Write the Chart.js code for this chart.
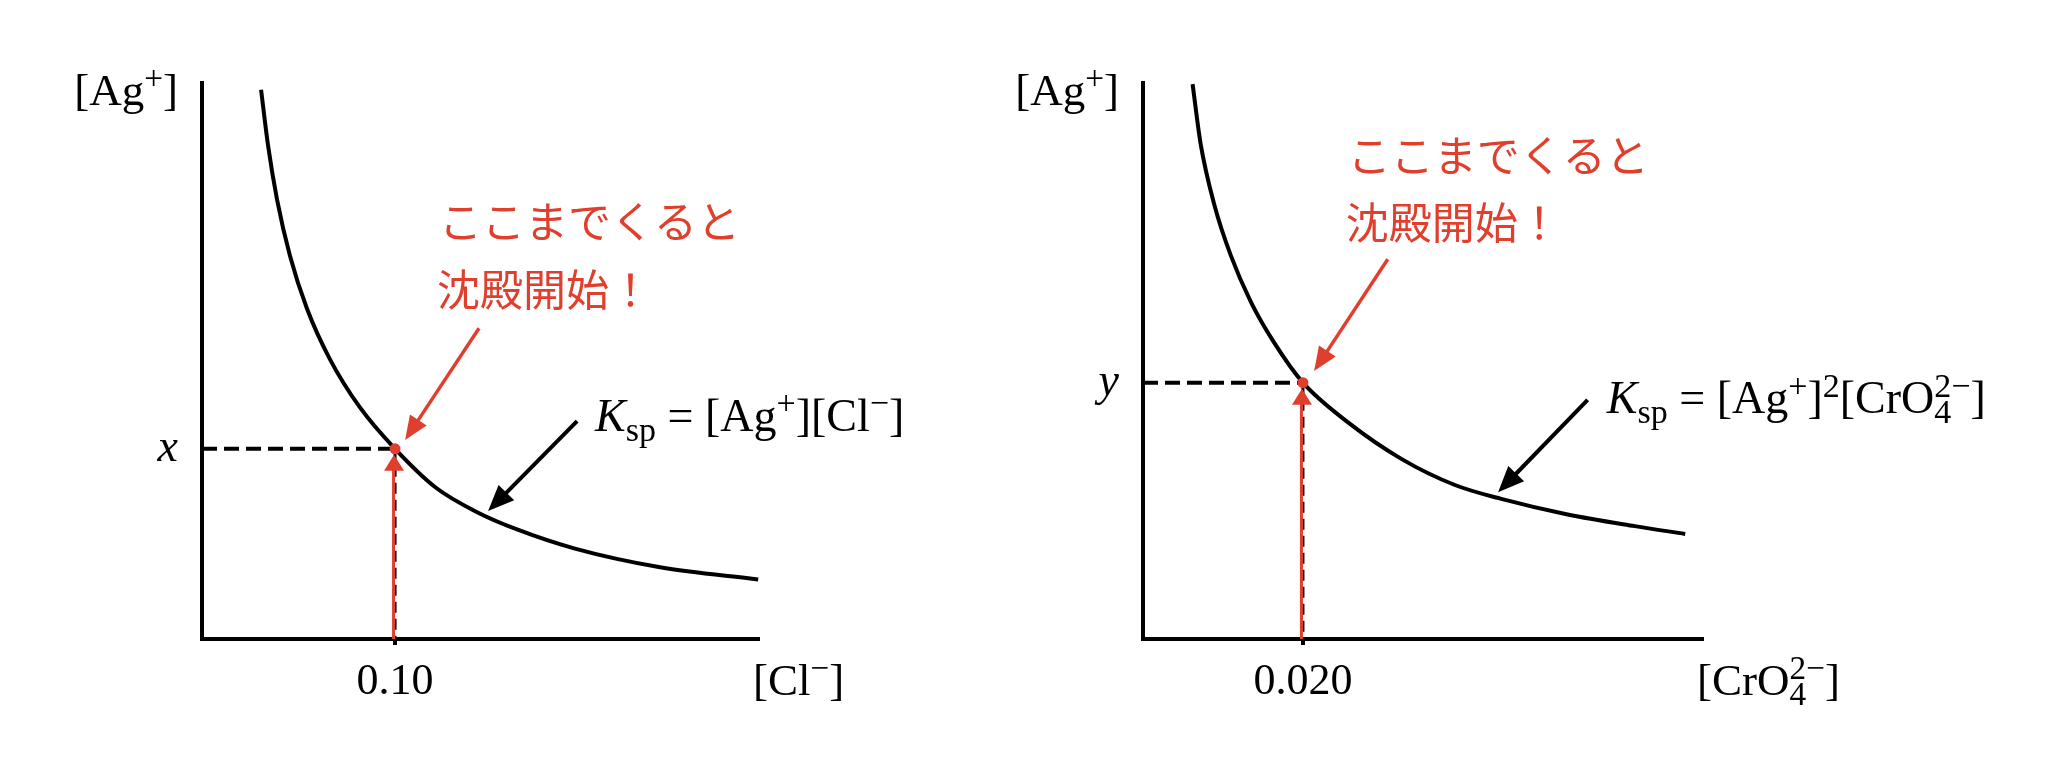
<!DOCTYPE html>
<html>
<head>
<meta charset="utf-8">
<script src="https://cdn.jsdelivr.net/npm/chart.js@4.4.1/dist/chart.umd.min.js"></script>
<style>
  html, body { margin: 0; padding: 0; background: #fff; }
  #wrap { position: relative; width: 2048px; height: 779px; }
  .panel { position: absolute; top: 0; height: 779px; }
</style>
</head>
<body>
<div id="wrap">
  <div class="panel" style="left:0;width:1024px"><canvas id="chartCl" width="1024" height="779"></canvas></div>
  <div class="panel" style="left:960px;width:1088px"><canvas id="chartCr" width="1088" height="779"></canvas></div>
</div>
<script>
// 左: AgCl の溶解度曲線 ([Ag+] は相対値, 軸の上端 = 1)
const clX  = [0.0306, 0.0342, 0.0389, 0.0456, 0.0544, 0.0663, 0.0819, 0.100, 0.1212, 0.1420, 0.1632, 0.1927, 0.2373, 0.2881];
const clAg = [0.988, 0.888, 0.790, 0.689, 0.594, 0.503, 0.416, 0.342, 0.272, 0.229, 0.197, 0.163, 0.129, 0.107];
const clTick = 0.100;
const clTickLabel = '0.10';
const clAgLabel = 'x';
const clXMax = 0.288;

// 右: Ag2CrO4 の溶解度曲線
const crX  = [0.0062, 0.0072, 0.0089, 0.0110, 0.0135, 0.0164, 0.020, 0.0256, 0.0323, 0.0390, 0.0448, 0.0531, 0.0615, 0.0678];
const crAg = [0.998, 0.891, 0.782, 0.689, 0.606, 0.533, 0.461, 0.390, 0.324, 0.277, 0.252, 0.224, 0.203, 0.189];
const crTick = 0.020;
const crTickLabel = '0.020';
const crAgLabel = 'y';
const crXMax = 0.0699;

const RED = '#df3f2c';
const SERIF = '"Liberation Serif", "Times New Roman", serif';
const JP = '"Noto Sans CJK JP", sans-serif';

// 注釈の位置 (データ座標)
const clNotes = {
    red: [0.1435, 0.559, 0.1052, 0.358],
    black: [0.1943, 0.392, 0.1482, 0.230],
    jp: [0.1228, 0.750, 0.629],
    ksp: [0.2036, 0.374],
    formula: [{ t: 'K', i: true }, { sub: 'sp' }, { t: ' = [Ag' }, { sup: '+' }, { t: '][Cl' }, { sup: '\u2212' }, { t: ']' }],
    xTitle: [{ t: '[Cl' }, { sup: '\u2212' }, { t: ']' }]
};
const crNotes = {
    red: [0.0306, 0.683, 0.0214, 0.482],
    black: [0.0556, 0.430, 0.0444, 0.264],
    jp: [0.0256, 0.869, 0.748],
    ksp: [0.058, 0.406],
    formula: [{ t: 'K', i: true }, { sub: 'sp' }, { t: ' = [Ag' }, { sup: '+' }, { t: ']' }, { sup: '2' }, { t: '[CrO' }, { sub: '4', sup: '2\u2212' }, { t: ']' }],
    xTitle: [{ t: '[CrO' }, { sub: '4', sup: '2\u2212' }, { t: ']' }]
};
const agTitle = [{ t: '[Ag' }, { sup: '+' }, { t: ']' }];

// 上付き・下付きを含む文字列
function drawRich(ctx, parts, x, y, size, align) {
    const small = size * 0.74;
    const widths = parts.map(p => {
        if (p.t !== undefined) {
            ctx.font = `${p.i ? 'italic ' : ''}${size}px ${SERIF}`;
            return ctx.measureText(p.t).width;
        }
        ctx.font = `${small}px ${SERIF}`;
        return Math.max(p.sup ? ctx.measureText(p.sup).width : 0, p.sub ? ctx.measureText(p.sub).width : 0);
    });
    const total = widths.reduce((a, b) => a + b, 0);
    let cx = align === 'right' ? x - total : x;
    ctx.textAlign = 'left';
    ctx.textBaseline = 'alphabetic';
    parts.forEach((p, k) => {
        if (p.t !== undefined) {
            ctx.font = `${p.i ? 'italic ' : ''}${size}px ${SERIF}`;
            ctx.fillText(p.t, cx, y);
        } else {
            ctx.font = `${small}px ${SERIF}`;
            if (p.sup) ctx.fillText(p.sup, cx, y - size * 0.36);
            if (p.sub) ctx.fillText(p.sub, cx, y + size * 0.22);
        }
        cx += widths[k];
    });
}

function arrow(ctx, x1, y1, x2, y2, color, lw, hl, hw) {
    const a = Math.atan2(y2 - y1, x2 - x1);
    const bx = x2 - hl * Math.cos(a), by = y2 - hl * Math.sin(a);
    ctx.save();
    ctx.strokeStyle = color;
    ctx.fillStyle = color;
    ctx.lineWidth = lw;
    ctx.setLineDash([]);
    ctx.beginPath();
    ctx.moveTo(x1, y1);
    ctx.lineTo(bx + 2 * Math.cos(a), by + 2 * Math.sin(a));
    ctx.stroke();
    ctx.beginPath();
    ctx.moveTo(x2, y2);
    ctx.lineTo(bx - hw / 2 * Math.sin(a), by + hw / 2 * Math.cos(a));
    ctx.lineTo(bx + hw / 2 * Math.sin(a), by - hw / 2 * Math.cos(a));
    ctx.closePath();
    ctx.fill();
    ctx.restore();
}

function makePanel(id, xs, ys, tickX, tickLabel, yLabel, xMax, padLeft, padRight, notes) {
    const yPt = ys[xs.indexOf(tickX)];

    const notesPlugin = {
        id: 'notes',
        afterDatasetsDraw(chart) {
            const { ctx, chartArea, scales: { x, y } } = chart;
            const px = x.getPixelForValue(tickX);
            const py = y.getPixelForValue(yPt);
            const bottom = y.getPixelForValue(0);

            // 赤い縦矢印と交点
            ctx.save();
            ctx.strokeStyle = RED;
            ctx.lineWidth = 3;
            ctx.beginPath();
            ctx.moveTo(px - 1.5, bottom);
            ctx.lineTo(px - 1.5, py + 18);
            ctx.stroke();
            ctx.fillStyle = RED;
            ctx.beginPath();
            ctx.moveTo(px - 1, py + 6);
            ctx.lineTo(px - 11, py + 22);
            ctx.lineTo(px + 9, py + 22);
            ctx.closePath();
            ctx.fill();
            ctx.beginPath();
            ctx.arc(px, py, 5.5, 0, Math.PI * 2);
            ctx.fill();
            ctx.restore();

            const P = (vx, vy) => [x.getPixelForValue(vx), y.getPixelForValue(vy)];
            const [r1x, r1y] = P(notes.red[0], notes.red[1]);
            const [r2x, r2y] = P(notes.red[2], notes.red[3]);
            arrow(ctx, r1x, r1y, r2x, r2y, RED, 3.5, 24, 20);
            const [b1x, b1y] = P(notes.black[0], notes.black[1]);
            const [b2x, b2y] = P(notes.black[2], notes.black[3]);
            arrow(ctx, b1x, b1y, b2x, b2y, '#000', 4, 26, 22);

            // 吹き出しの文字
            ctx.save();
            ctx.fillStyle = RED;
            ctx.font = `43px ${JP}`;
            ctx.textAlign = 'left';
            ctx.textBaseline = 'middle';
            const [jx, j1] = P(notes.jp[0], notes.jp[1]);
            const j2 = y.getPixelForValue(notes.jp[2]);
            ctx.fillText('ここまでくると', jx, j1);
            ctx.fillText('沈殿開始！', jx - 2, j2);
            ctx.restore();

            ctx.save();
            ctx.fillStyle = '#000';
            const [kx, ky] = P(notes.ksp[0], notes.ksp[1]);
            drawRich(ctx, notes.formula, kx, ky, 46);
            // 軸タイトル
            drawRich(ctx, agTitle, chartArea.left - 24, chartArea.top + 22, 45, 'right');
            drawRich(ctx, notes.xTitle, chartArea.right - 5, chartArea.bottom + 56, 45);
            ctx.restore();
        }
    };

    return new Chart(document.getElementById(id), {
        type: 'scatter',
        data: {
            datasets: [
                {
                    data: xs.map((v, k) => ({ x: v, y: ys[k] })),
                    showLine: true,
                    borderColor: '#000',
                    borderWidth: 4,
                    pointRadius: 0,
                    cubicInterpolationMode: 'monotone',
                    clip: false,
                    order: 1
                },
                {
                    data: [{ x: 0, y: yPt }, { x: tickX, y: yPt }],
                    showLine: true,
                    borderColor: '#000',
                    borderWidth: 4,
                    borderDash: [15, 7],
                    pointRadius: 0,
                    order: 2
                },
                {
                    data: [{ x: tickX, y: yPt }, { x: tickX, y: 0 }],
                    showLine: true,
                    borderColor: '#000',
                    borderWidth: 3,
                    borderDash: [11, 6],
                    pointRadius: 0,
                    order: 3
                }
            ]
        },
        options: {
            responsive: false,
            animation: false,
            events: [],
            layout: { padding: { left: padLeft, right: padRight, top: 83, bottom: 60 } },
            plugins: { legend: { display: false }, tooltip: { enabled: false } },
            scales: {
                x: {
                    type: 'linear',
                    min: 0,
                    max: xMax,
                    border: { display: true, color: '#000', width: 4 },
                    grid: { display: true, drawOnChartArea: false, drawTicks: true, tickLength: 6, lineWidth: 4, color: '#000' },
                    ticks: {
                        color: '#000',
                        font: { family: SERIF, size: 44 },
                        padding: 11,
                        maxRotation: 0,
                        autoSkip: false,
                        callback: () => tickLabel
                    },
                    afterBuildTicks: s => { s.ticks = [{ value: tickX }]; },
                    afterFit: s => { s.height = 80; }
                },
                y: {
                    type: 'linear',
                    min: 0,
                    max: 1,
                    border: { display: true, color: '#000', width: 4 },
                    grid: { display: false, drawTicks: false },
                    ticks: {
                        color: '#000',
                        font: { family: SERIF, size: 46, style: 'italic' },
                        padding: 24,
                        callback: () => yLabel
                    },
                    afterBuildTicks: s => { s.ticks = [{ value: yPt }]; },
                    afterFit: s => { s.width = 80; }
                }
            }
        },
        plugins: [notesPlugin]
    });
}

makePanel('chartCl', clX, clAg, clTick, clTickLabel, clAgLabel, clXMax, 122, 266, clNotes);
makePanel('chartCr', crX, crAg, crTick, crTickLabel, crAgLabel, crXMax, 103, 346, crNotes);
</script>
</body>
</html>
